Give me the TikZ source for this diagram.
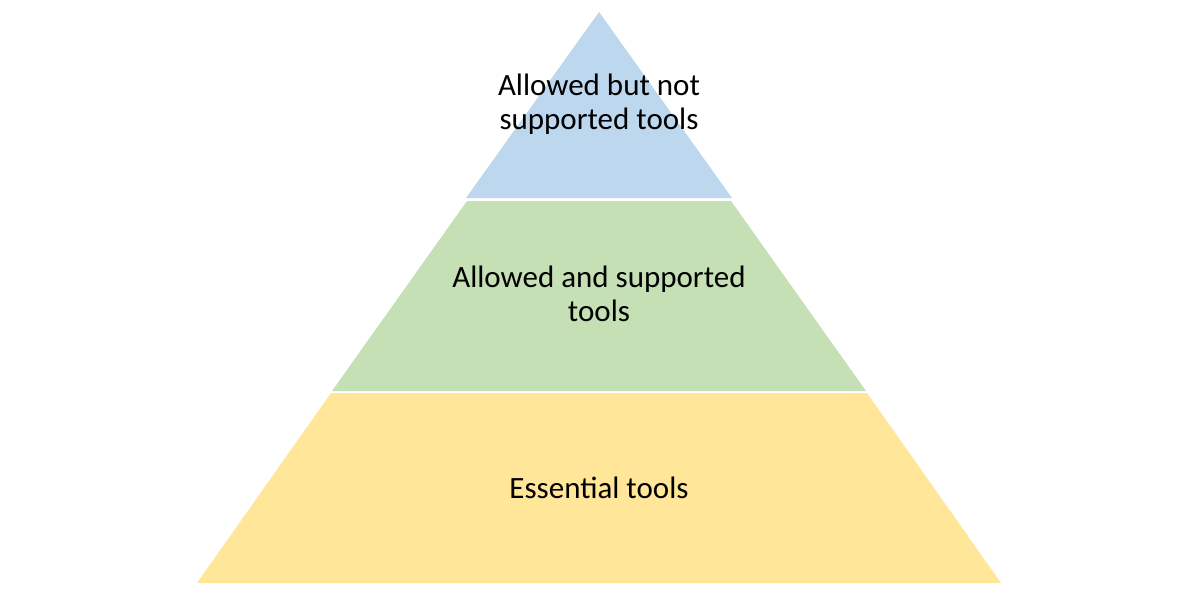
\documentclass[tikz,border=0pt]{standalone}
\usepackage{fontspec}
\setmainfont{Carlito}
\definecolor{topblue}{HTML}{BDD7EE}
\definecolor{midgreen}{HTML}{C5E0B4}
\definecolor{basey}{HTML}{FFE699}
\begin{document}
\begin{tikzpicture}[x=1pt,y=-1pt,
  lbl/.style={align=center,font=\fontsize{31}{34}\selectfont,text=black,inner sep=0pt}]
\useasboundingbox (0,0) rectangle (1200,600);
\fill[white] (0,0) rectangle (1200,600);
\coordinate (apex) at (599,12);
\coordinate (bl) at (197,583);
\coordinate (br) at (1001,583);
% layers
\fill[basey] (331,393) -- (867,393) -- (br) -- (bl) -- cycle;
\fill[midgreen] (467,201) -- (731,201) -- (866,391) -- (332,391) -- cycle;
\fill[topblue] (apex) -- (732,198) -- (466,198) -- cycle;
\node[lbl] (t1) at (599,104) {Allowed but not\\supported tools};
\node[lbl] (t2) at (599,294) {Allowed and supported\\tools};
\node[lbl] (t3) at (599,488) {Essential tools};
\end{tikzpicture}
\end{document}
